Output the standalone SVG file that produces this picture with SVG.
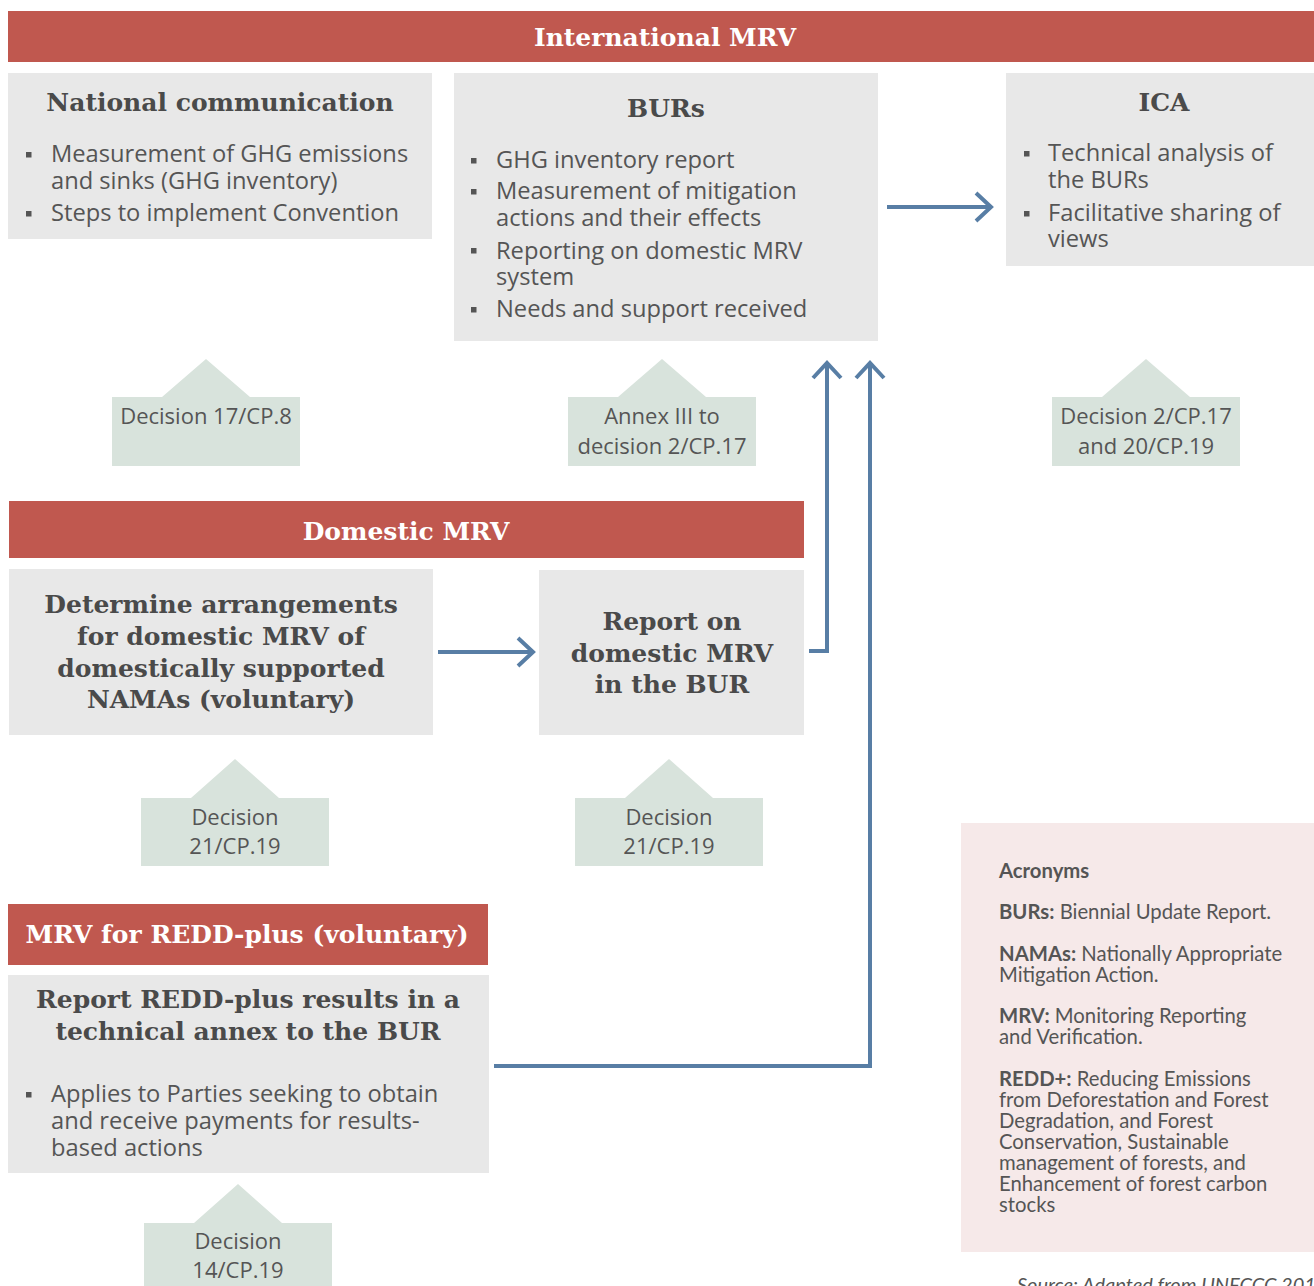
<svg xmlns="http://www.w3.org/2000/svg" width="1314" height="1286" viewBox="0 0 1314 1286">
<defs>
<style>
.banner{fill:#c0584f}
.box{fill:#e8e8e8}
.tag{fill:#d8e3dc}
.acr{fill:#f6e9e9}
.bt{font-family:"DejaVu Serif","Liberation Serif",serif;font-weight:bold;font-size:25px;fill:#ffffff;text-anchor:middle}
.ht{font-family:"DejaVu Serif","Liberation Serif",serif;font-weight:bold;font-size:25px;fill:#4a4a4a;text-anchor:middle}
.body{font-family:"Open Sans","DejaVu Sans",sans-serif;font-size:23.7px;fill:#555555}
.tt{font-family:"Open Sans","DejaVu Sans",sans-serif;font-size:22px;fill:#555555;text-anchor:middle}
.at{font-family:Lato,"Open Sans",sans-serif;font-size:20.3px;fill:#555555}
.src{font-family:Lato,"Open Sans",sans-serif;font-size:20px;font-style:italic;fill:#555555}
.bul{fill:#555555}
.con{fill:none;stroke:#587ea5;stroke-width:4;marker-end:url(#chev)}
</style>
<marker id="chev" markerUnits="userSpaceOnUse" markerWidth="40" markerHeight="40" viewBox="-20 -20 40 40" refX="0" refY="0" orient="auto" overflow="visible">
<path d="M-15,-14 L0,0 L-15,14" fill="none" stroke="#587ea5" stroke-width="4"/>
</marker>
</defs>
<rect width="1314" height="1286" fill="#ffffff"/>

<g id="international-mrv">
<rect class="banner" x="8" y="11" width="1306" height="51"/>
<text class="bt" x="665" y="46">International MRV</text>
</g>

<g id="national-communication">
<rect class="box" x="8" y="73" width="424" height="166"/>
<text class="ht" x="220" y="111">National communication</text>
<rect class="bul" x="26" y="152" width="5.5" height="5.5"/>
<rect class="bul" x="26" y="211" width="5.5" height="5.5"/>
<text class="body" x="51" y="162">Measurement of GHG emissions</text>
<text class="body" x="51" y="189">and sinks (GHG inventory)</text>
<text class="body" x="51" y="221">Steps to implement Convention</text>
</g>

<g id="burs">
<rect class="box" x="454" y="73" width="424" height="268"/>
<text class="ht" x="666" y="117">BURs</text>
<rect class="bul" x="471" y="158" width="5.5" height="5.5"/>
<rect class="bul" x="471" y="189" width="5.5" height="5.5"/>
<rect class="bul" x="471" y="248" width="5.5" height="5.5"/>
<rect class="bul" x="471" y="307" width="5.5" height="5.5"/>
<text class="body" x="496" y="168">GHG inventory report</text>
<text class="body" x="496" y="199">Measurement of mitigation</text>
<text class="body" x="496" y="226">actions and their effects</text>
<text class="body" x="496" y="259">Reporting on domestic MRV</text>
<text class="body" x="496" y="285">system</text>
<text class="body" x="496" y="317">Needs and support received</text>
</g>

<g id="ica">
<rect class="box" x="1006" y="73" width="308" height="193"/>
<text class="ht" x="1164" y="111">ICA</text>
<rect class="bul" x="1024" y="151" width="5.5" height="5.5"/>
<rect class="bul" x="1024" y="211" width="5.5" height="5.5"/>
<text class="body" x="1048" y="161">Technical analysis of</text>
<text class="body" x="1048" y="188">the BURs</text>
<text class="body" x="1048" y="221">Facilitative sharing of</text>
<text class="body" x="1048" y="247">views</text>
</g>

<g id="tag-17-cp8">
<path class="tag" d="M112,397 H162 L206,359 L250,397 H300 V466 H112 Z"/>
<text class="tt" x="206" y="424">Decision 17/CP.8</text>
</g>

<g id="tag-annex-iii">
<path class="tag" d="M568,397 H618 L662,359 L706,397 H756 V466 H568 Z"/>
<text class="tt" x="662" y="424">Annex III to</text>
<text class="tt" x="662" y="454">decision 2/CP.17</text>
</g>

<g id="tag-2-cp17">
<path class="tag" d="M1052,397 H1102 L1146,359 L1190,397 H1240 V466 H1052 Z"/>
<text class="tt" x="1146" y="424">Decision 2/CP.17</text>
<text class="tt" x="1146" y="454">and 20/CP.19</text>
</g>

<g id="domestic-mrv">
<rect class="banner" x="9" y="501" width="795" height="57"/>
<text class="bt" x="406" y="540">Domestic MRV</text>
</g>

<g id="determine-arrangements">
<rect class="box" x="9" y="569" width="424" height="166"/>
<text class="ht" x="221" y="613">Determine arrangements</text>
<text class="ht" x="221" y="645">for domestic MRV of</text>
<text class="ht" x="221" y="677">domestically supported</text>
<text class="ht" x="221" y="708">NAMAs (voluntary)</text>
</g>

<g id="report-domestic-mrv">
<rect class="box" x="539" y="570" width="265" height="165"/>
<text class="ht" x="672" y="630">Report on</text>
<text class="ht" x="672" y="662">domestic MRV</text>
<text class="ht" x="672" y="693">in the BUR</text>
</g>

<g id="tag-21-cp19-a">
<path class="tag" d="M141,798 H191 L235,759 L279,798 H329 V866 H141 Z"/>
<text class="tt" x="235" y="825">Decision</text>
<text class="tt" x="235" y="854">21/CP.19</text>
</g>

<g id="tag-21-cp19-b">
<path class="tag" d="M575,798 H625 L669,759 L713,798 H763 V866 H575 Z"/>
<text class="tt" x="669" y="825">Decision</text>
<text class="tt" x="669" y="854">21/CP.19</text>
</g>

<g id="redd-mrv">
<rect class="banner" x="8" y="904" width="480" height="61"/>
<text class="bt" x="247" y="943">MRV for REDD-plus (voluntary)</text>
</g>

<g id="redd-report">
<rect class="box" x="8" y="975" width="481" height="198"/>
<text class="ht" x="248" y="1008">Report REDD-plus results in a</text>
<text class="ht" x="248" y="1040">technical annex to the BUR</text>
<rect class="bul" x="26" y="1092" width="5.5" height="5.5"/>
<text class="body" x="51" y="1102">Applies to Parties seeking to obtain</text>
<text class="body" x="51" y="1129">and receive payments for results-</text>
<text class="body" x="51" y="1156">based actions</text>
</g>

<g id="tag-14-cp19">
<path class="tag" d="M144,1223 H194 L238,1184 L282,1223 H332 V1286 H144 Z"/>
<text class="tt" x="238" y="1249">Decision</text>
<text class="tt" x="238" y="1278">14/CP.19</text>
</g>

<g id="acronyms">
<rect class="acr" x="961" y="823" width="353" height="429"/>
<text class="at" x="999" y="878" font-weight="bold">Acronyms</text>
<text class="at" x="999" y="919"><tspan font-weight="bold">BURs:</tspan> Biennial Update Report.</text>
<text class="at" x="999" y="961"><tspan font-weight="bold">NAMAs:</tspan> Nationally Appropriate</text>
<text class="at" x="999" y="982">Mitigation Action.</text>
<text class="at" x="999" y="1023"><tspan font-weight="bold">MRV:</tspan> Monitoring Reporting</text>
<text class="at" x="999" y="1044">and Verification.</text>
<text class="at" x="999" y="1086"><tspan font-weight="bold">REDD+:</tspan> Reducing Emissions</text>
<text class="at" x="999" y="1107">from Deforestation and Forest</text>
<text class="at" x="999" y="1128">Degradation, and Forest</text>
<text class="at" x="999" y="1149">Conservation, Sustainable</text>
<text class="at" x="999" y="1170">management of forests, and</text>
<text class="at" x="999" y="1191">Enhancement of forest carbon</text>
<text class="at" x="999" y="1212">stocks</text>
</g>

<text class="src" x="1017" y="1292">Source: Adapted from UNFCCC 201</text>

<g id="connectors">
<path class="con" d="M887,207 H991"/>
<path class="con" d="M438,652 H533"/>
<path class="con" d="M809,651 H827 V363"/>
<path class="con" d="M494,1066 H870 V363"/>
</g>
</svg>
